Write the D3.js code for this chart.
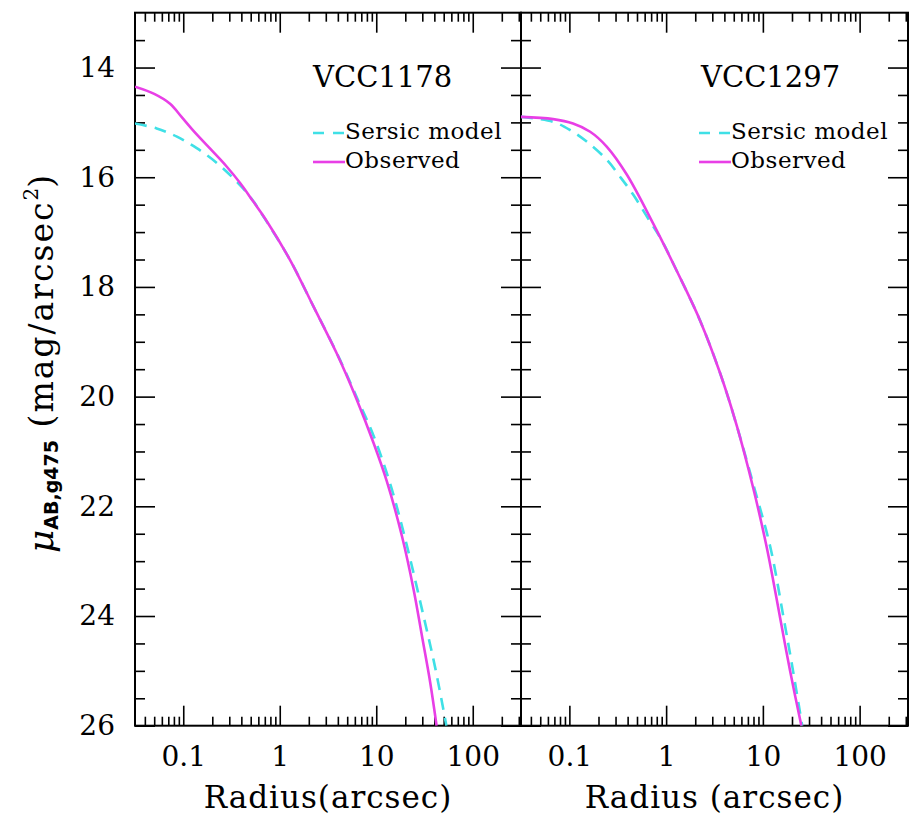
<!DOCTYPE html>
<html>
<head>
<meta charset="utf-8">
<script src="https://cdn.jsdelivr.net/npm/d3@7"></script>
<style>
  body { margin: 0; background: #fff; }
  svg { display: block; }
  text { font-family: "DejaVu Serif", serif; fill: #000; }
</style>
</head>
<body>
<svg id="chart" width="914" height="815"></svg>
<script>
// radius in arcsec, surface brightness in mag/arcsec^2
var vcc1178ObsR  = [0.0316, 0.05, 0.073, 0.096, 0.127, 0.19, 0.28, 0.39, 0.53, 0.71, 1.28, 2.24, 3.89, 6.3, 9.4, 12.9, 18.5, 24.4, 29.8, 36.3, 42.2];
var vcc1178ObsMu = [14.35, 14.48, 14.66, 14.9, 15.15, 15.48, 15.8, 16.11, 16.44, 16.76, 17.51, 18.36, 19.21, 20.06, 20.85, 21.55, 22.55, 23.52, 24.37, 25.22, 26.0];

var vcc1178SerR  = [0.0316, 0.053, 0.086, 0.138, 0.223, 0.331, 0.49, 0.68, 1.28, 2.24, 3.89, 6.31, 9.55, 14.0, 20.0, 30.9, 40.9, 53.3];
var vcc1178SerMu = [15.02, 15.11, 15.26, 15.47, 15.74, 16.02, 16.35, 16.72, 17.51, 18.36, 19.2, 20.02, 20.75, 21.6, 22.6, 24.0, 24.95, 26.0];

var vcc1297ObsR  = [0.0316, 0.068, 0.109, 0.164, 0.243, 0.392, 0.738, 1.29, 2.24, 3.61, 5.37, 7.98, 11.0, 15.1, 19.1, 25.0];
var vcc1297ObsMu = [14.9, 14.94, 15.02, 15.17, 15.44, 15.95, 16.85, 17.71, 18.61, 19.57, 20.53, 21.68, 22.76, 24.04, 25.0, 26.0];

var vcc1297SerR  = [0.0316, 0.068, 0.102, 0.151, 0.243, 0.334, 0.458, 0.65, 0.9, 1.29, 2.24, 3.61, 5.37, 8.2, 12.0, 16.4, 20.5, 25.5];
var vcc1297SerMu = [14.9, 14.99, 15.14, 15.35, 15.68, 15.99, 16.32, 16.75, 17.15, 17.71, 18.61, 19.57, 20.53, 21.68, 22.76, 24.04, 25.0, 26.0];

var galaxyNames = ['VCC1178', 'VCC1297'];
var legendLabels = ['Sersic model', 'Observed'];
var xTickLabels = ['0.1', '1', '10', '100'];
var yTickLabels = ['14', '16', '18', '20', '22', '24', '26'];
var xTitles = ['Radius(arcsec)', 'Radius (arcsec)'];

var sersicColor = '#3fe0e6',
    observedColor = '#e83fe6';

function toPoints(rs, mus) {
	return rs.map(function(r, i) { return {r: r, mu: mus[i]}; });
}

var panels = [
	{ name: galaxyNames[0], x0: 135, x1: 521, obs: toPoints(vcc1178ObsR, vcc1178ObsMu), ser: toPoints(vcc1178SerR, vcc1178SerMu), title: xTitles[0] },
	{ name: galaxyNames[1], x0: 521, x1: 908, obs: toPoints(vcc1297ObsR, vcc1297ObsMu), ser: toPoints(vcc1297SerR, vcc1297SerMu), title: xTitles[1] }
];

var plotTop = 12.7, plotBottom = 725.7;

var svg = d3.select('#chart');

var y = d3.scaleLinear()
	.domain([13, 26])
	.range([plotTop, plotBottom]);

var yMajor = yTickLabels.map(Number);
var yMinor = d3.range(13.5, 26, 0.5).filter(function(v) { return v % 2 !== 0; });

panels.forEach(function(p, pi) {
	var x = d3.scaleLog()
		.domain([Math.pow(10, -1.5), Math.pow(10, 2.5)])
		.range([p.x0, p.x1]);

	var xMajor = xTickLabels.map(Number);
	var xMinor = x.ticks().filter(function(v) {
		var l = Math.log10(v);
		return Math.abs(l - Math.round(l)) > 1e-6;
	});

	var g = svg.append('g').attr('class', 'panel');

	// clip for the curves
	var clipId = 'clip' + pi;
	svg.append('clipPath').attr('id', clipId)
		.append('rect')
		.attr('x', p.x0).attr('y', plotTop)
		.attr('width', p.x1 - p.x0).attr('height', plotBottom - plotTop);

	function styleAxis(sel) {
		sel.select('.domain').remove();
		sel.selectAll('.tick line').attr('stroke', '#000').attr('stroke-width', 1.6);
		sel.selectAll('.tick text').style('font-family', '"DejaVu Serif", serif').style('font-size', '28px').attr('fill', '#000');
	}

	// x axes, bottom with labels, top mirrored
	g.append('g')
		.attr('transform', 'translate(0,' + plotBottom + ')')
		.call(d3.axisBottom(x).tickValues(xMajor).tickSize(-20).tickPadding(20)
			.tickFormat(function(d, i) { return xTickLabels[i]; }))
		.call(styleAxis);
	g.append('g')
		.attr('transform', 'translate(0,' + plotBottom + ')')
		.call(d3.axisBottom(x).tickValues(xMinor).tickSize(-9).tickFormat(''))
		.call(styleAxis);
	g.append('g')
		.attr('transform', 'translate(0,' + plotTop + ')')
		.call(d3.axisTop(x).tickValues(xMajor).tickSize(-20).tickFormat(''))
		.call(styleAxis);
	g.append('g')
		.attr('transform', 'translate(0,' + plotTop + ')')
		.call(d3.axisTop(x).tickValues(xMinor).tickSize(-9).tickFormat(''))
		.call(styleAxis);

	// y axes, labels only on the first panel
	g.append('g')
		.attr('transform', 'translate(' + p.x0 + ',0)')
		.call(d3.axisLeft(y).tickValues(yMajor).tickSize(-20).tickPadding(20)
			.tickFormat(function(d, i) { return pi === 0 ? yTickLabels[i] : ''; }))
		.call(styleAxis);
	g.append('g')
		.attr('transform', 'translate(' + p.x0 + ',0)')
		.call(d3.axisLeft(y).tickValues(yMinor).tickSize(-10).tickFormat(''))
		.call(styleAxis);
	g.append('g')
		.attr('transform', 'translate(' + p.x1 + ',0)')
		.call(d3.axisRight(y).tickValues(yMajor).tickSize(-20).tickFormat(''))
		.call(styleAxis);
	g.append('g')
		.attr('transform', 'translate(' + p.x1 + ',0)')
		.call(d3.axisRight(y).tickValues(yMinor).tickSize(-10).tickFormat(''))
		.call(styleAxis);

	g.append('rect')
		.attr('x', p.x0).attr('y', plotTop)
		.attr('width', p.x1 - p.x0).attr('height', plotBottom - plotTop)
		.attr('fill', 'none')
		.attr('stroke', '#000')
		.attr('stroke-width', 2);

	var line = d3.line()
		.x(function(d) { return x(d.r); })
		.y(function(d) { return y(d.mu); })
		.curve(d3.curveCatmullRom.alpha(0.5));

	var curves = g.append('g').attr('clip-path', 'url(#' + clipId + ')');

	curves.append('path')
		.datum(p.ser)
		.attr('d', line)
		.attr('fill', 'none')
		.attr('stroke', sersicColor)
		.attr('stroke-width', 2.6)
		.attr('stroke-dasharray', '12,8');

	curves.append('path')
		.datum(p.obs)
		.attr('d', line)
		.attr('fill', 'none')
		.attr('stroke', observedColor)
		.attr('stroke-width', 2.6);

	// galaxy name and legend
	var lx = p.x0 + 178;
	g.append('text')
		.attr('x', lx + (pi === 0 ? 0 : 2))
		.attr('y', 87)
		.style('font-size', '29px')
		.text(p.name);

	var legend = g.selectAll('.legend-item')
		.data(legendLabels)
		.enter()
		.append('g')
		.attr('class', 'legend-item')
		.attr('transform', function(d, i) {
			return 'translate(' + lx + ',' + (133 + i * 29) + ')';
		});

	legend.append('line')
		.attr('x1', 0).attr('x2', 32)
		.attr('stroke', function(d, i) { return i === 0 ? sersicColor : observedColor; })
		.attr('stroke-width', 2.6)
		.attr('stroke-dasharray', function(d, i) { return i === 0 ? '11,9' : null; });

	legend.append('text')
		.attr('x', 32)
		.attr('y', 6)
		.style('font-size', '23px')
		.style('letter-spacing', '0.5px')
		.text(function(d) { return d; });

	// x title
	g.append('text')
		.attr('x', (p.x0 + p.x1) / 2)
		.attr('y', 808)
		.attr('text-anchor', 'middle')
		.style('font-size', '31px')
		.style('letter-spacing', '1px')
		.text(p.title);
});

// y title
var yTitle = svg.append('text')
	.attr('transform', 'translate(53,364) rotate(-90)')
	.attr('text-anchor', 'middle')
	.style('font-size', '33px');

yTitle.append('tspan')
	.style('font-style', 'italic')
	.style('font-size', '36px')
	.text('\u03bc');
yTitle.append('tspan')
	.attr('dy', 5)
	.style('font-family', '"DejaVu Sans", sans-serif')
	.style('font-weight', 'bold')
	.style('font-size', '19px')
	.text('AB,g475');
yTitle.append('tspan')
	.attr('dy', -5)
	.style('letter-spacing', '2px')
	.text(' (mag/arcsec');
yTitle.append('tspan')
	.attr('dy', -15)
	.style('font-size', '20px')
	.text('2');
yTitle.append('tspan')
	.attr('dy', 15)
	.text(')');
</script>
</body>
</html>
